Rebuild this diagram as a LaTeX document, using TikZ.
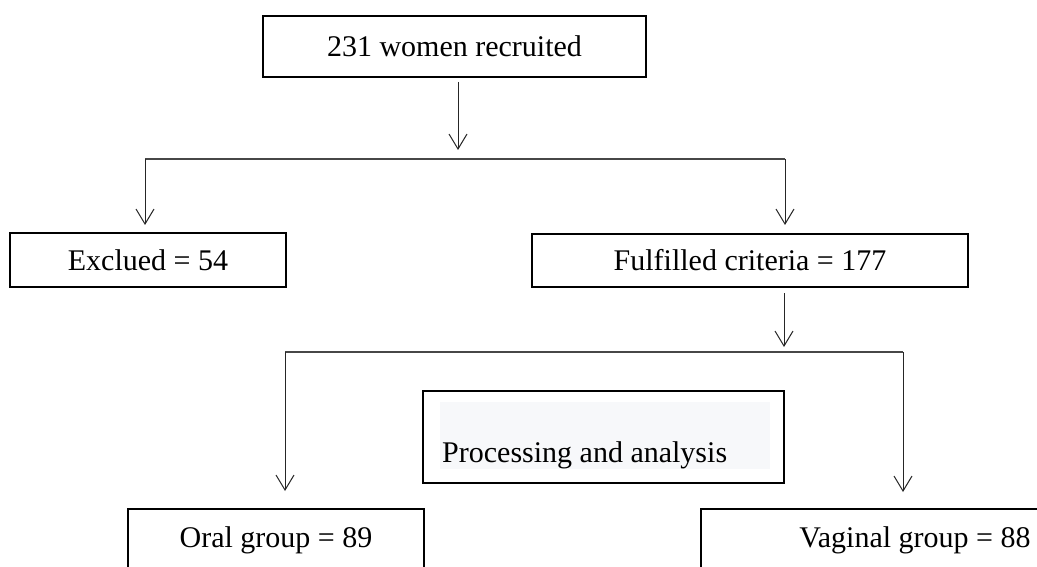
\documentclass[tikz,border=0pt]{standalone}
\usepackage{fontspec}
\setmainfont{Liberation Serif}
\usetikzlibrary{arrows.meta}
\definecolor{procfill}{HTML}{F7F8FA}
\begin{document}
\begin{tikzpicture}[x=1pt,y=-1pt,
  box/.style={draw=black,line width=2pt,rectangle,inner sep=0pt,
    font=\fontsize{30}{36}\selectfont},
  arr/.style={draw=black!85,line width=1pt,
    -{Straight Barb[length=15pt,width=18pt,line width=1pt]}},
  hline/.style={draw=black!72,line width=2pt},
  plain/.style={inner sep=0pt,font=\fontsize{30}{36}\selectfont}]
\clip (0,0) rectangle (1037,567);
\fill[white] (0,0) rectangle (1037,567);

% boxes
\node[box,minimum width=383pt,minimum height=61pt] (top) at (454.5,46.5) {231 women recruited};
\node[box,minimum width=276pt,minimum height=54pt] (excl) at (148,260) {Exclued = 54};
\node[box,minimum width=436pt,minimum height=53pt] (ful) at (750,260.5) {Fulfilled criteria = 177};
\node[box,minimum width=361pt,minimum height=92pt] (proc) at (603.5,437) {};
\fill[procfill] (440,402) rectangle (770,469);
\node[plain,anchor=base west] (proctext) at (442,462) {Processing and analysis};
\node[box,minimum width=296pt,minimum height=62pt] (oral) at (276,540) {Oral group = 89};
\node[box,minimum width=428pt,minimum height=62pt] (vag) at (915,540) {Vaginal group = 88};

% connector points
\coordinate (t1) at (458,150);
\coordinate (hL) at (145,159);
\coordinate (hR) at (785,159);
\coordinate (m1) at (784,347);
\coordinate (gL) at (285,352);
\coordinate (gR) at (903,352);

% connectors
\draw[arr,shorten <=4pt] (top.south -| t1) -- (t1);
\draw[hline] (hL) -- (hR);
\draw[arr,shorten >=7pt] (hL) -- (excl.north -| hL);
\draw[arr,shorten >=8pt] (hR) -- (ful.north -| hR);
\draw[arr,shorten <=5pt] (ful.south -| m1) -- (m1);
\draw[hline] (gL) -- (gR);
\draw[arr,shorten >=17pt] (gL) -- (oral.north -| gL);
\draw[arr,shorten >=16pt] (gR) -- (vag.north -| gR);
\end{tikzpicture}
\end{document}
